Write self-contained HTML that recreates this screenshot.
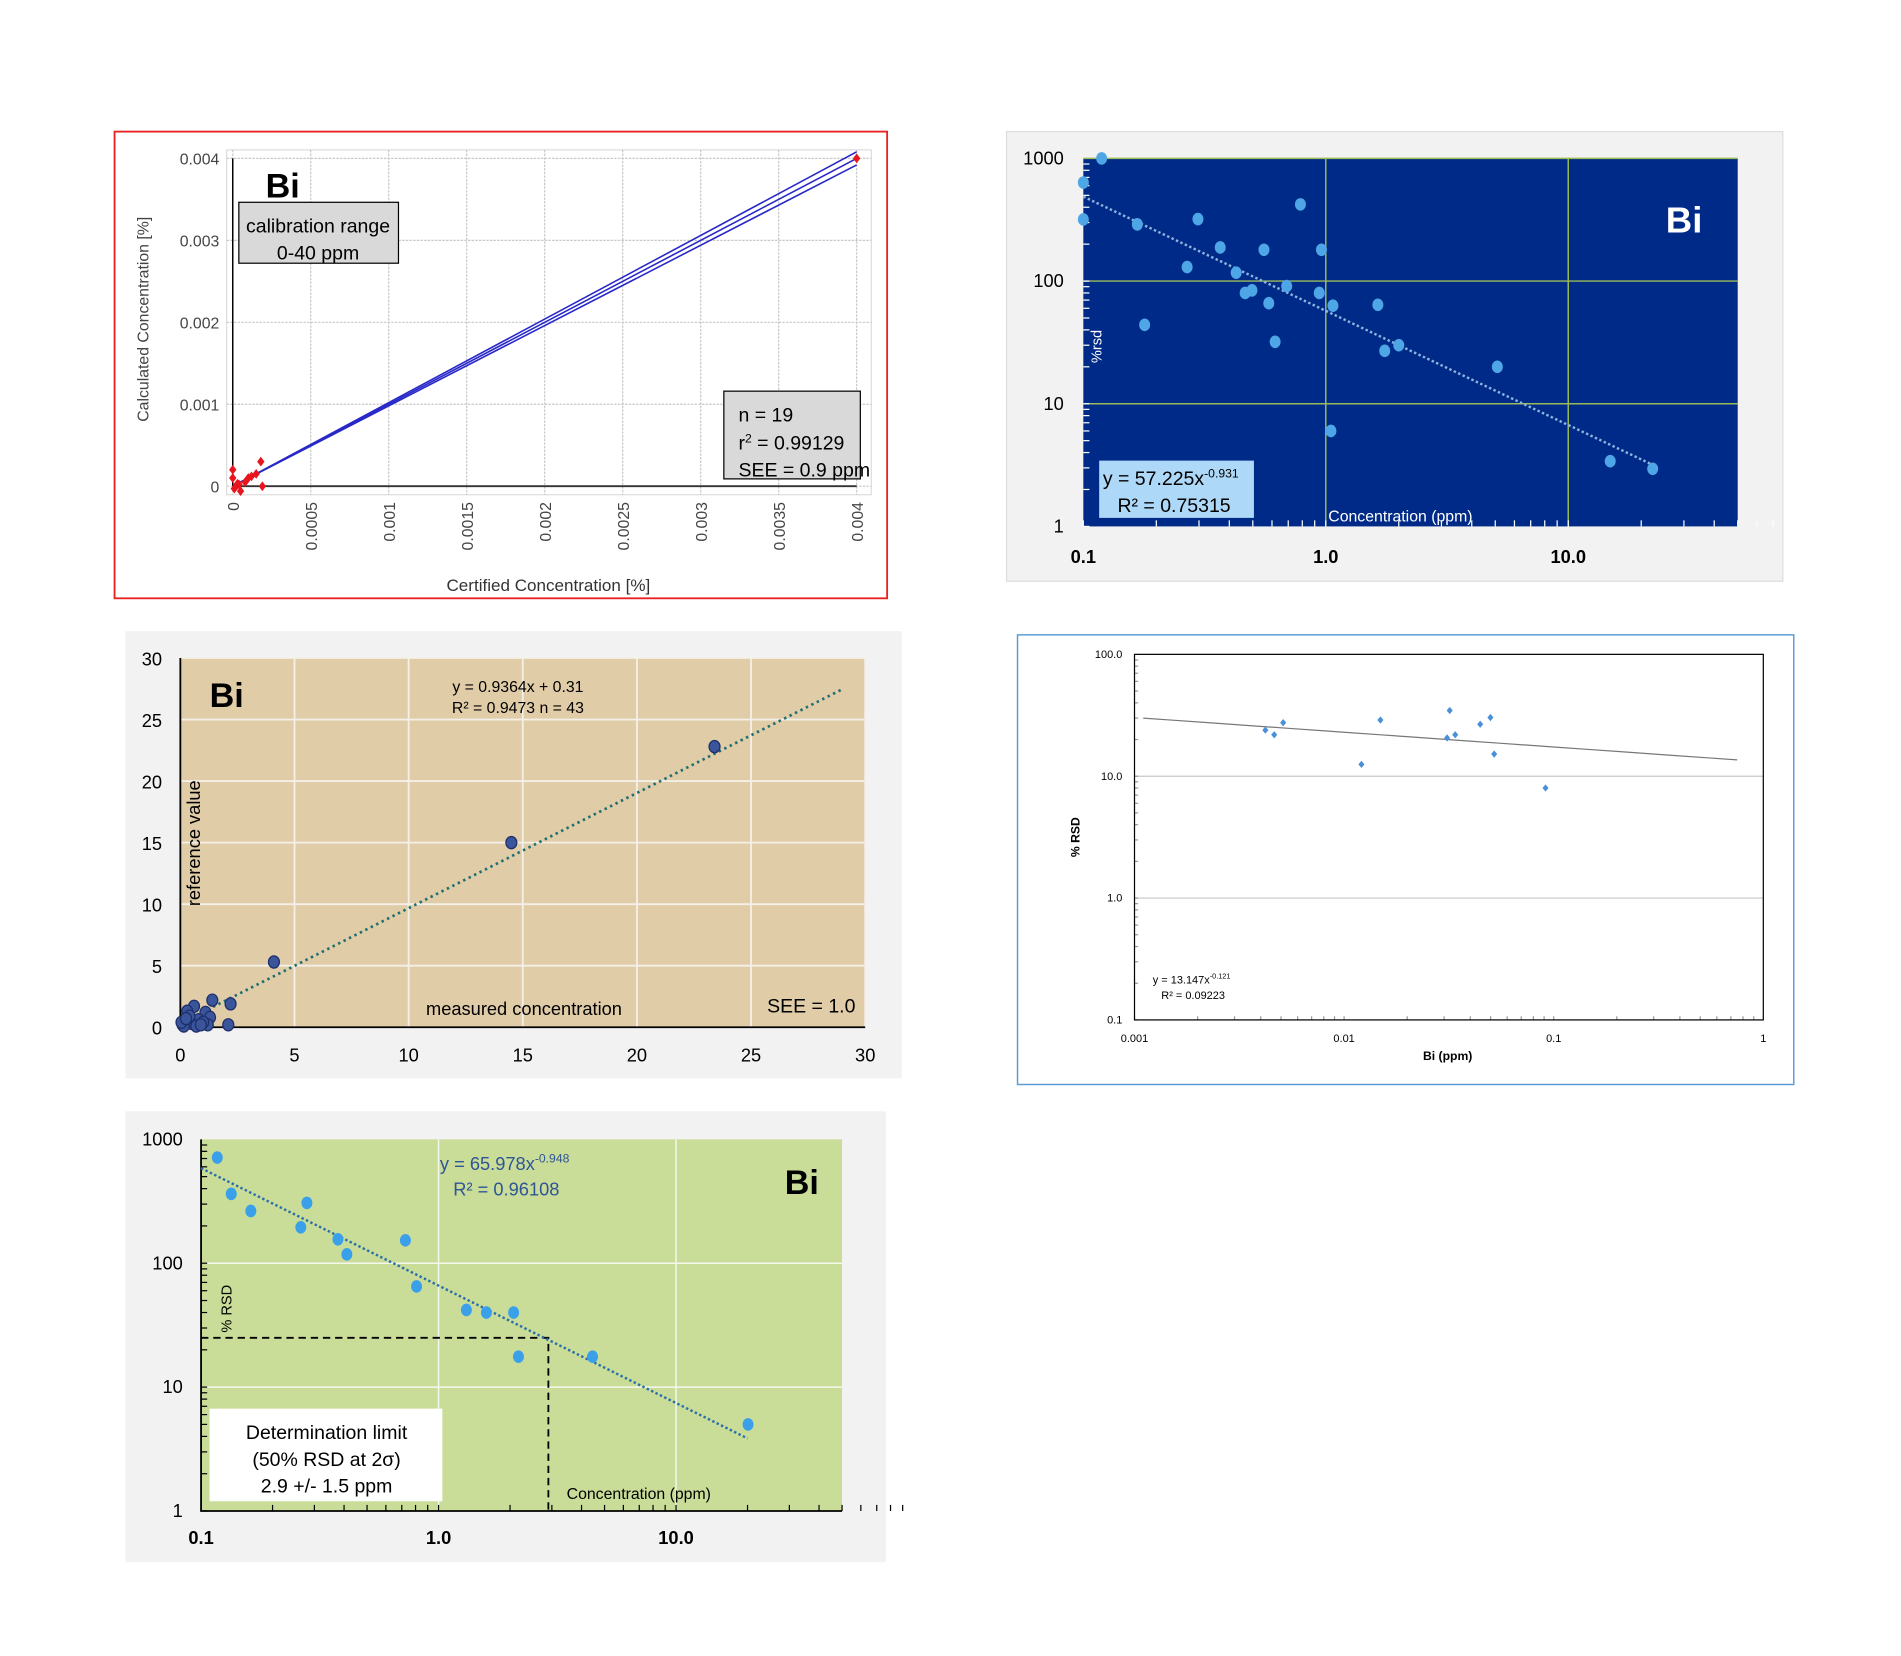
<!DOCTYPE html>
<html><head><meta charset="utf-8"><style>
html,body{margin:0;padding:0;background:#fff;}
svg{display:block;font-family:"Liberation Sans",sans-serif;}
</style></head><body>
<svg id="s" width="1901" height="1656" viewBox="0 0 1560 1359" preserveAspectRatio="none" xmlns="http://www.w3.org/2000/svg">
<rect x="0" y="0" width="1560" height="1359" fill="#fff"/>
<!-- chart 1 -->
<g>
<rect x="94" y="108" width="634" height="383" fill="#fff" stroke="#e82020" stroke-width="1.5"/>
<rect x="186" y="123" width="529" height="283" fill="#fff" stroke="#ddd"/>
<g id="c1grid"></g>
<line x1="191" y1="130" x2="191" y2="399" stroke="#000" stroke-width="1.2"/>
<line x1="191" y1="399" x2="703" y2="399" stroke="#333" stroke-width="1.5"/>
<g id="c1lines"></g><g id="c1pts"></g>
<text x="218" y="162" font-size="28" font-weight="bold">Bi</text>
<rect x="196" y="166" width="131" height="50" fill="#d9d9d9" stroke="#000"/>
<text x="261" y="191" font-size="16" text-anchor="middle">calibration range</text>
<text x="261" y="213" font-size="16" text-anchor="middle">0-40 ppm</text>
<rect x="594" y="321" width="112" height="72" fill="#d9d9d9" stroke="#000"/>
<text x="606" y="346" font-size="16">n = 19</text>
<text x="606" y="369" font-size="16">r<tspan font-size="10" dy="-6">2</tspan><tspan dy="6"> = 0.99129</tspan></text>
<text x="606" y="391" font-size="16">SEE = 0.9 ppm</text>
<text x="122" y="262" font-size="13" fill="#444" text-anchor="middle" transform="rotate(-90 122 262)">Calculated Concentration [%]</text>
<text x="450" y="485" font-size="14" fill="#333" text-anchor="middle">Certified Concentration [%]</text>
</g>
<!-- chart 2 -->
<g>
<rect x="826" y="108" width="637" height="369" fill="#f2f2f2" stroke="#ddd"/>
<rect x="889" y="130" width="537" height="302" fill="#002a87"/>
<g id="c2grid"></g><g id="c2trend"></g><g id="c2pts"></g>
<text x="1382" y="191" font-size="30" font-weight="bold" fill="#fff" text-anchor="middle">Bi</text>
<rect x="902" y="378" width="127" height="47" fill="#aed8f7"/>
<text x="905" y="398" font-size="16">y = 57.225x<tspan font-size="10" dy="-6">-0.931</tspan></text>
<text x="917" y="420" font-size="16">R² = 0.75315</text>
<text x="1090" y="428" font-size="13" fill="#fff">Concentration (ppm)</text>
<text x="904" y="298" font-size="12" fill="#fff" transform="rotate(-90 904 298)">%rsd</text>
</g>
<!-- chart 3 -->
<g>
<rect x="103" y="518" width="637" height="367" fill="#f2f2f2"/>
<rect x="148" y="540" width="562" height="303" fill="#e1cca8"/>
<g id="c3grid"></g><g id="c3trend"></g><g id="c3pts"></g>
<text x="172" y="580" font-size="28" font-weight="bold">Bi</text>
<text x="425" y="568" font-size="13" text-anchor="middle">y = 0.9364x + 0.31</text>
<text x="425" y="585" font-size="13" text-anchor="middle">R² = 0.9473   n = 43</text>
<text x="164" y="692" font-size="15" text-anchor="middle" transform="rotate(-90 164 692)">reference value</text>
<text x="430" y="833" font-size="15" text-anchor="middle">measured concentration</text>
<text x="702" y="831" font-size="16" text-anchor="end">SEE = 1.0</text>
</g>
<!-- chart 4 -->
<g>
<rect x="835" y="521" width="637" height="369" fill="#fff" stroke="#5b9bd5" stroke-width="1.2"/>
<g id="c4grid"></g>
<rect x="931" y="537" width="516" height="300" fill="none" stroke="#000" stroke-width="1"/>
<g id="c4trend"></g><g id="c4pts"></g>
<text x="946" y="807" font-size="9">y = 13.147x<tspan font-size="6" dy="-4">-0.121</tspan></text>
<text x="953" y="820" font-size="9">R² = 0.09223</text>
<text x="886" y="687" font-size="10" font-weight="bold" text-anchor="middle" transform="rotate(-90 886 687)">% RSD</text>
<text x="1188" y="870" font-size="10" font-weight="bold" text-anchor="middle">Bi (ppm)</text>
</g>
<!-- chart 5 -->
<g>
<rect x="103" y="912" width="624" height="370" fill="#f2f2f2"/>
<rect x="165" y="935" width="526" height="305" fill="#c9dd98"/>
<g id="c5grid"></g><g id="c5trend"></g><g id="c5pts"></g>
<text x="658" y="980" font-size="28" font-weight="bold" text-anchor="middle">Bi</text>
<text x="361" y="960" font-size="15" fill="#2f5597">y = 65.978x<tspan font-size="10" dy="-6">-0.948</tspan></text>
<text x="372" y="981" font-size="15" fill="#2f5597">R² = 0.96108</text>
<text x="190" y="1074" font-size="12" transform="rotate(-90 190 1074)" text-anchor="middle">% RSD</text>
<rect x="172" y="1156" width="191" height="76" fill="#fff"/>
<text x="268" y="1181" font-size="16" text-anchor="middle">Determination limit</text>
<text x="268" y="1203" font-size="16" text-anchor="middle">(50% RSD at 2σ)</text>
<text x="268" y="1225" font-size="16" text-anchor="middle">2.9 +/- 1.5 ppm</text>
<text x="465" y="1230" font-size="13">Concentration (ppm)</text>
</g>
</svg>
<script>
var NS="http://www.w3.org/2000/svg";
// chart 1 data
var c1Ticks=[0,0.0005,0.001,0.0015,0.002,0.0025,0.003,0.0035,0.004];
var c1TickLabels=["0","0.0005","0.001","0.0015","0.002","0.0025","0.003","0.0035","0.004"];
var c1YTicks=[0,0.001,0.002,0.003,0.004];
var c1YLabels=["0","0.001","0.002","0.003","0.004"];
var c1X=[0,0,0.00002,0.00003,0.00005,0.00008,0.0001,0.00012,0.00015,0.00018,0.00019,0.00001,0.00004,0.004];
var c1Y=[0.0002,0.0001,0,0.00003,-0.00006,0.00005,0.0001,0.00012,0.00015,0.0003,0,-0.00003,0.00002,0.004];
var c1Band=0.00008;
// chart 2 data
var c2X=[0.119,0.1,0.1,0.167,0.179,0.297,0.268,0.367,0.427,0.465,0.496,0.556,0.582,0.618,0.69,0.786,0.94,0.96,1.07,1.05,1.64,1.75,2.0,5.1,14.9,22.3];
var c2Y=[1000,636,318,290,44,320,130,188,117,80,84,180,66,32,91,422,80,180,63,6,64,27,30,20,3.4,2.95];
var c2Coef=[57.225,-0.931];
var c2XLabels=["0.1","1.0","10.0"];var c2XTicks=[0.1,1,10];
var c2YLabels=["1","10","100","1000"];var c2YTicks=[1,10,100,1000];
// chart 3 data
var c3X=[23.4,14.5,4.1,2.2,1.4,0.6,1.1,0.3,2.1,0.1,0.2,0.5,0.8,1.3,1.2,0.4,0.7,1.0,0.15,0.9,0.05,0.25];
var c3Y=[22.8,15,5.3,1.9,2.2,1.7,1.2,1.3,0.2,0.2,0.5,0.3,0.6,0.8,0.2,0.9,0.1,0.4,0.1,0.2,0.4,0.7];
var c3Coef=[0.9364,0.31];
var c3Ticks=[0,5,10,15,20,25,30];
var c3Labels=["0","5","10","15","20","25","30"];
// chart 4 data
var c4X=[0.00421,0.00464,0.00512,0.0121,0.0149,0.031,0.0319,0.0339,0.0446,0.0499,0.052,0.0914];
var c4Y=[23.9,21.9,27.5,12.5,28.9,20.6,34.6,21.9,26.7,30.3,15.2,8.0];
var c4Coef=[13.147,-0.121];
var c4XTicks=[0.001,0.01,0.1,1];var c4XLabels=["0.001","0.01","0.1","1"];
var c4YTicks=[0.1,1,10,100];var c4YLabels=["0.1","1.0","10.0","100.0"];
// chart 5 data
var c5X=[0.117,0.134,0.162,0.279,0.263,0.377,0.411,0.725,0.808,1.31,1.59,2.07,2.17,4.45,20.1];
var c5Y=[713,363,264,307,195,156,118,153,65,42,40,40,17.6,17.6,5.0];
var c5Coef=[65.978,-0.948];
var c5Limit=[2.9,25];
var c5XLabels=["0.1","1.0","10.0"];var c5XTicks=[0.1,1,10];
var c5YLabels=["1","10","100","1000"];var c5YTicks=[1,10,100,1000];

function mk(tag,parent,attrs){var e=document.createElementNS(NS,tag);for(var k in attrs)e.setAttribute(k,attrs[k]);document.getElementById(parent).appendChild(e);return e;}
function lin(d0,d1,r0,r1){return function(v){return r0+(v-d0)/(d1-d0)*(r1-r0);};}
function lg(d0,d1,r0,r1){return function(v){return r0+(Math.log10(v)-Math.log10(d0))/(Math.log10(d1)-Math.log10(d0))*(r1-r0);};}

// chart 1
(function(){
var x=lin(0,0.004,191,703),y=lin(0,0.004,399,130);
c1Ticks.forEach(function(t,i){
 var g=mk("line","c1grid",{x1:x(t),y1:123,x2:x(t),y2:406,stroke:"#c8c8c8","stroke-dasharray":"2,1"});
 
 
 var tx=mk("text","c1grid",{x:x(t)+5,y:412,"font-size":13,fill:"#444","text-anchor":"end",transform:"rotate(-90 "+(x(t)+5)+" 412)"});
 tx.textContent=c1TickLabels[i];
 
 
});
c1YTicks.forEach(function(t,i){
 var g=mk("line","c1grid",{x1:186,y1:y(t),x2:715,y2:y(t),stroke:"#c8c8c8","stroke-dasharray":"2,1"});
 
 
 var tx=mk("text","c1grid",{x:180,y:y(t)+5,"font-size":13,fill:"#444","text-anchor":"end"});
 tx.textContent=c1YLabels[i];
 
 
});
[-1,0,1].forEach(function(k){
 var l=mk("line","c1lines",{x1:x(0.00002),y1:y(0.00002),x2:x(0.004),y2:y(0.004+k*c1Band),stroke:"#2828c8","stroke-width":1.3});
 
 
});
c1X.forEach(function(v,i){
 var cx=x(v),cy=y(c1Y[i]);
 var p=mk("polygon","c1pts",{points:(cx)+","+(cy-4)+" "+(cx+3)+","+cy+" "+cx+","+(cy+4)+" "+(cx-3)+","+cy,fill:"#e8141e"});
 
 
});
})();

// log chart helper
function logChart(id,x,y,xs,ys,coef,xr,opts){
 xs.forEach(function(v,i){
  var c=mk("ellipse",id+"pts",{cx:x(v),cy:y(ys[i]),rx:opts.r,ry:opts.r*1.15,fill:opts.fill,stroke:opts.stroke||"none"});
  
  
 });
 var pts=[];for(var k=0;k<=40;k++){var xv=Math.pow(10,Math.log10(xr[0])+k/40*(Math.log10(xr[1])-Math.log10(xr[0])));pts.push(x(xv)+","+y(coef[0]*Math.pow(xv,coef[1])));}
 var t=mk("polyline",id+"trend",{points:pts.join(" "),fill:"none",stroke:opts.tc,"stroke-width":opts.tw,"stroke-dasharray":opts.td});
 
 
}
function minorTicks(id,x,y,xd,yd,x0,y0,len,col){
 xd.forEach(function(d){for(var m=1;m<10;m++){var v=d*m;var l=mk("line",id+"grid",{x1:x(v),y1:y0,x2:x(v),y2:y0-len,stroke:col});}});
 yd.forEach(function(d){for(var m=1;m<10;m++){var v=d*m;var l=mk("line",id+"grid",{x1:x0,y1:y(v),x2:x0+len,y2:y(v),stroke:col});}});
}
function labels(id,x,y,xt,xl,yt,yl,xy,yx,fs,col){
 xt.forEach(function(t,i){var e=mk("text",id+"grid",{x:x(t),y:xy,"font-size":fs,"font-weight":"bold","text-anchor":"middle",fill:col});e.textContent=xl[i];});
 yt.forEach(function(t,i){var e=mk("text",id+"grid",{x:yx,y:y(t)+5,"font-size":fs,"text-anchor":"end",fill:col});e.textContent=yl[i];});
}

// chart 2
(function(){
var x=lg(0.1,50,889,1426),y=lg(1,1000,432,130);
[1,10].forEach(function(v){var l=mk("line","c2grid",{x1:x(v),y1:130,x2:x(v),y2:432,stroke:"#9bbb59","stroke-width":1.2});});
[10,100,1000].forEach(function(v){var l=mk("line","c2grid",{x1:889,y1:y(v),x2:1426,y2:y(v),stroke:"#9bbb59","stroke-width":1.2});});
minorTicks("c2",x,y,[0.1,1,10],[1,10,100],889,432,5,"#fff");
labels("c2",x,y,c2XTicks,c2XLabels,c2YTicks,c2YLabels,462,873,15,"#000");
logChart("c2",x,y,c2X,c2Y,c2Coef,[0.1,23],{r:4.5,fill:"#4ea6e6",tc:"#8fb4e0",tw:2,td:"2,2"});
})();

// chart 3
(function(){
var x=lin(0,30,148,710),y=lin(0,30,843,540);
c3Ticks.forEach(function(t,i){
 if(t>0){var a=mk("line","c3grid",{x1:x(t),y1:540,x2:x(t),y2:843,stroke:"#f4f0e8","stroke-width":1.5});
 var b=mk("line","c3grid",{x1:148,y1:y(t),x2:710,y2:y(t),stroke:"#f4f0e8","stroke-width":1.5});}
 var tx=mk("text","c3grid",{x:x(t),y:871,"font-size":15,"text-anchor":"middle"});tx.textContent=c3Labels[i];
 var ty=mk("text","c3grid",{x:133,y:y(t)+6,"font-size":15,"text-anchor":"end"});ty.textContent=c3Labels[i];
});
var ax=mk("polyline","c3grid",{points:"148,540 148,843 710,843",fill:"none",stroke:"#000","stroke-width":1.5});


var t=mk("line","c3trend",{x1:x(0),y1:y(c3Coef[1]),x2:x(29),y2:y(c3Coef[0]*29+c3Coef[1]),stroke:"#1f6f6f","stroke-width":2.2,"stroke-dasharray":"2,3"});


c3X.forEach(function(v,i){var c=mk("ellipse","c3pts",{cx:x(v),cy:y(c3Y[i]),rx:4.5,ry:5,fill:"#3a559a",stroke:"#1c2e6b"});});
})();

// chart 4
(function(){
var x=lg(0.001,1,931,1447),y=lg(0.1,100,837,537);
[1,10].forEach(function(v){var l=mk("line","c4grid",{x1:931,y1:y(v),x2:1447,y2:y(v),stroke:"#c8c8c8"});});
minorTicks("c4",x,y,[0.001,0.01,0.1],[0.1,1,10],931,837,3,"#999");
c4XTicks.forEach(function(t,i){var e=mk("text","c4grid",{x:x(t),y:855,"font-size":9,"text-anchor":"middle"});e.textContent=c4XLabels[i];});
c4YTicks.forEach(function(t,i){var e=mk("text","c4grid",{x:921,y:y(t)+3,"font-size":9,"text-anchor":"end"});e.textContent=c4YLabels[i];});
var pts=[];for(var k=0;k<=20;k++){var xv=Math.pow(10,Math.log10(0.0011)+k/20*(Math.log10(0.75)-Math.log10(0.0011)));pts.push(x(xv)+","+y(c4Coef[0]*Math.pow(xv,c4Coef[1])));}
var t=mk("polyline","c4trend",{points:pts.join(" "),fill:"none",stroke:"#777","stroke-width":1});


c4X.forEach(function(v,i){var cx=x(v),cy=y(c4Y[i]);var p=mk("polygon","c4pts",{points:cx+","+(cy-3)+" "+(cx+2.5)+","+cy+" "+cx+","+(cy+3)+" "+(cx-2.5)+","+cy,fill:"#4a90d9"});});
})();

// chart 5
(function(){
var x=lg(0.1,50,165,691),y=lg(1,1000,1240,935);
[1,10].forEach(function(v){var l=mk("line","c5grid",{x1:x(v),y1:935,x2:x(v),y2:1240,stroke:"#f4f8ea","stroke-width":1.2});});
[10,100].forEach(function(v){var l=mk("line","c5grid",{x1:165,y1:y(v),x2:691,y2:y(v),stroke:"#f4f8ea","stroke-width":1.2});});
var ax=mk("polyline","c5grid",{points:"165,935 165,1240 691,1240",fill:"none",stroke:"#000","stroke-width":1.5});


minorTicks("c5",x,y,[0.1,1,10],[1,10,100],165,1240,5,"#000");
labels("c5",x,y,c5XTicks,c5XLabels,c5YTicks,c5YLabels,1267,150,15,"#000");
var d=mk("polyline","c5trend",{points:"165,"+y(c5Limit[1])+" "+x(c5Limit[0])+","+y(c5Limit[1])+" "+x(c5Limit[0])+",1240",fill:"none",stroke:"#000","stroke-width":1.5,"stroke-dasharray":"6,4"});


logChart("c5",x,y,c5X,c5Y,c5Coef,[0.1,20],{r:4.5,fill:"#3aa0ea",tc:"#2a6fa8",tw:2,td:"2,2"});
})();
</script>
</body></html>
